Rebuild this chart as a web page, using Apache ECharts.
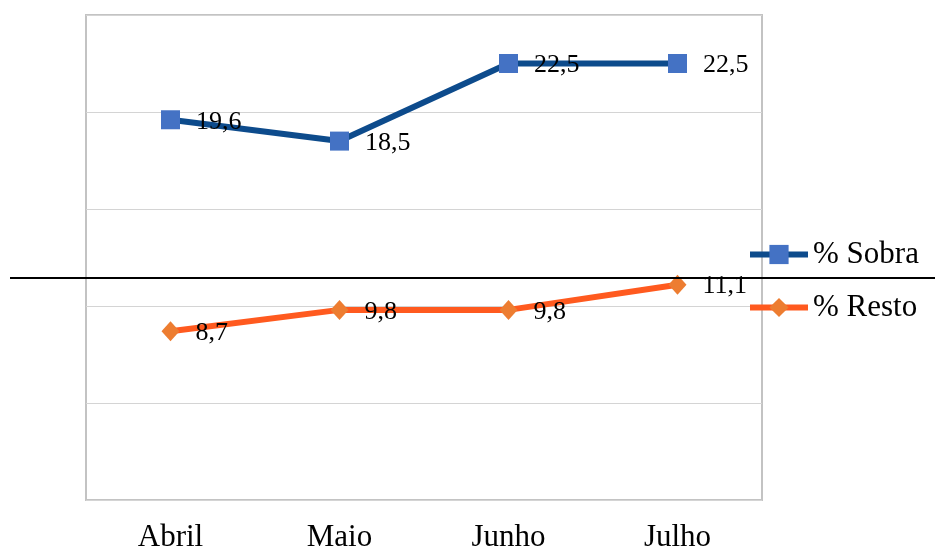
<!DOCTYPE html>
<html><head><meta charset="utf-8">
<script src="https://cdn.jsdelivr.net/npm/echarts@6/dist/echarts.min.js"></script>
<style>html,body{margin:0;padding:0;background:#fff}#c{width:935px;height:550px}</style>
</head><body><div id="c"></div>
<script>
const categories = ['Abril', 'Maio', 'Junho', 'Julho'];
const sobra = [19.6, 18.5, 22.5, 22.5];
const resto = [8.7, 9.8, 9.8, 11.1];
const seriesNames = ['% Sobra', '% Resto'];
const yTicks = { min: 0, max: 25, interval: 5 };

const chart = echarts.init(document.getElementById('c'));
const font = 'Liberation Serif, Times New Roman, serif';
const fmt = p => String(p.value).replace('.', ',');
chart.setOption({
  animation: false,
  grid: { left: 86, right: 173, top: 15, bottom: 50, show: true, borderColor: '#c3c3c3', borderWidth: 2, containLabel: false, outerBoundsMode: 'none' },
  xAxis: {
    type: 'category', data: categories, boundaryGap: true,
    axisLine: { show: false }, axisTick: { show: false },
    axisLabel: { fontFamily: font, fontSize: 31, color: '#000', margin: 22 }
  },
  yAxis: {
    type: 'value', min: yTicks.min, max: yTicks.max, interval: yTicks.interval,
    axisLabel: { show: false }, axisLine: { show: false }, axisTick: { show: false },
    splitLine: { lineStyle: { color: '#d4d4d4', width: 1 } }
  },
  legend: {
    orient: 'vertical', left: 747, top: 239, padding: 0, itemGap: 22, itemWidth: 58, itemHeight: 24,
    lineStyle: { width: 6 },
    textStyle: { fontFamily: font, fontSize: 31, color: '#000' },
    data: seriesNames
  },
  graphic: [{
    type: 'line', shape: { x1: 10, y1: 278, x2: 935, y2: 278 },
    style: { stroke: '#000', lineWidth: 2 }, z: 100
  }],
  series: [
    {
      name: seriesNames[0], type: 'line', data: sobra,
      symbol: 'rect', symbolSize: 19,
      lineStyle: { color: '#0D4B8C', width: 6 },
      itemStyle: { color: '#4472C4' },
      label: { show: true, position: 'right', distance: 16, offset: [0, 2], formatter: fmt, fontFamily: font, fontSize: 26, color: '#000' }
    },
    {
      name: seriesNames[1], type: 'line', data: resto,
      symbol: 'diamond', symbolSize: [18, 20],
      lineStyle: { color: '#FF5A1F', width: 6 },
      itemStyle: { color: '#ED7D31' },
      label: { show: true, position: 'right', distance: 16, offset: [0, 2], formatter: fmt, fontFamily: font, fontSize: 26, color: '#000' }
    }
  ]
});
</script></body></html>
